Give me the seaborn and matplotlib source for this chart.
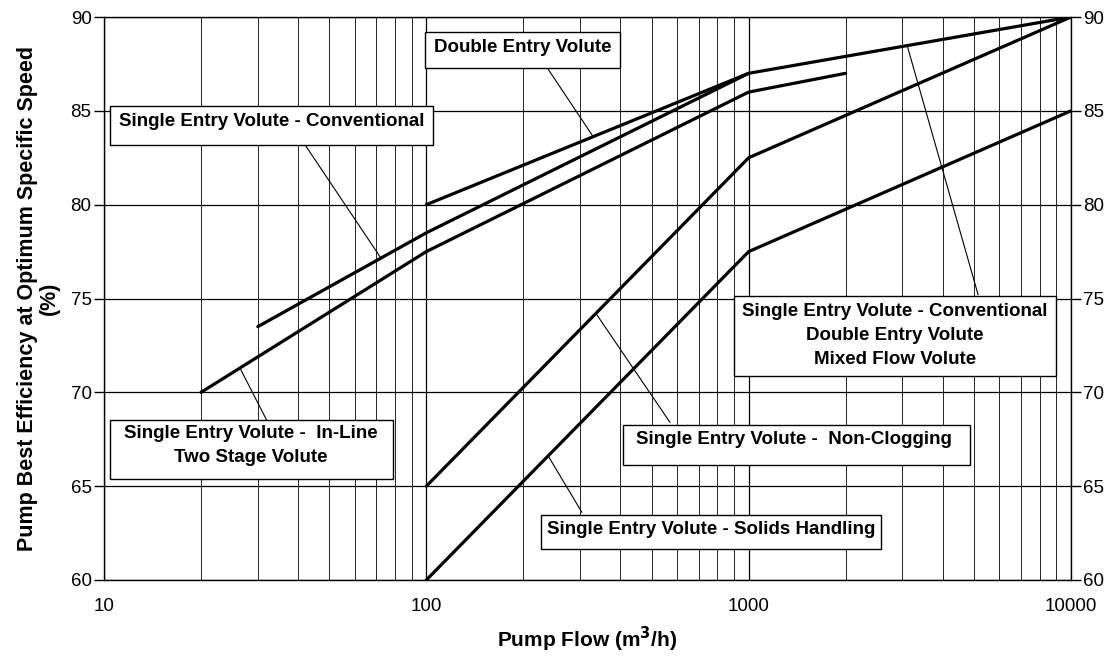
import numpy as np
import pandas as pd
import matplotlib.pyplot as plt
import matplotlib.ticker as mticker
from matplotlib.patches import Rectangle
import seaborn as sns

sns.set_theme(style="white")
plt.rcParams['font.family'] = ['Liberation Sans', 'DejaVu Sans']
plt.rcParams.update({'text.color': 'black', 'axes.labelcolor': 'black',
                     'xtick.color': 'black', 'ytick.color': 'black'})

# ---------------------------------------------------------------
# data (flow m3/h, efficiency %)
# ---------------------------------------------------------------
flow_double = [100, 1000, 10000]
eff_double = [80, 87, 90]
flow_conv = [30, 100, 1000]
eff_conv = [73.5, 78.5, 87]
flow_inline = [20, 100, 1000, 2000]
eff_inline = [70, 77.5, 86, 87]
flow_nonclog = [100, 1000, 10000]
eff_nonclog = [65, 82.5, 90]
flow_solids = [100, 1000, 10000]
eff_solids = [60, 77.5, 85]

series = {
    'Double Entry Volute': (flow_double, eff_double),
    'Single Entry Volute - Conventional': (flow_conv, eff_conv),
    'Single Entry Volute - In-Line': (flow_inline, eff_inline),
    'Single Entry Volute - Non-Clogging': (flow_nonclog, eff_nonclog),
    'Single Entry Volute - Solids Handling': (flow_solids, eff_solids),
}
df = pd.concat([pd.DataFrame({'flow': f, 'eff': e, 'series': name})
                for name, (f, e) in series.items()], ignore_index=True)

x_ticks = [10, 100, 1000, 10000]
y_ticks = [60, 65, 70, 75, 80, 85, 90]

# ---------------------------------------------------------------
# figure
# ---------------------------------------------------------------
W, H = 1105, 663
fig = plt.figure(figsize=(W / 100, H / 100), dpi=100)
L, R, T, B = 104, 1071, 17, 580
ax = fig.add_axes([L / W, 1 - B / H, (R - L) / W, (B - T) / H])

sns.lineplot(data=df, x='flow', y='eff', units='series', estimator=None,
             sort=False, color='black', lw=2.3, ax=ax, zorder=3)

ax.set_xscale('log')
ax.set_xlim(10, 10000)
ax.set_ylim(60, 90)
ax.xaxis.set_major_locator(mticker.FixedLocator(x_ticks))
ax.xaxis.set_major_formatter(mticker.FixedFormatter([str(v) for v in x_ticks]))
ax.xaxis.set_minor_locator(mticker.LogLocator(base=10, subs=np.arange(2, 10)))
ax.xaxis.set_minor_formatter(mticker.NullFormatter())
ax.set_yticks(y_ticks)

ax.grid(which='major', color='black', lw=0.9)
ax.grid(which='minor', axis='x', color='black', lw=0.6)
ax.set_axisbelow(True)
for s in ax.spines.values():
    s.set_color('black')
    s.set_linewidth(1)

ax.yaxis.set_ticks_position('both')
ax.tick_params(axis='y', which='major', direction='out', length=7, width=1,
               labelsize=13.5, labelright=True, pad=2)
ax.tick_params(axis='x', which='major', direction='out', length=5, width=1,
               labelsize=13.5, pad=8)
ax.tick_params(axis='x', which='minor', length=0)

ax.set_xlabel('Pump Flow (m$^\\mathbf{3}$/h)', fontsize=15, fontweight='bold', labelpad=7)
ax.set_ylabel('Pump Best Efficiency at Optimum Specific Speed\n(%)', fontsize=15.5,
              fontweight='bold', labelpad=8, linespacing=1.0)


# ---------------------------------------------------------------
# label boxes with leader lines (box given in pixels of the figure)
# ---------------------------------------------------------------
def px(xp, yp):
    return (xp - L) / (R - L), (B - yp) / (B - T)


def label_box(x0, y0, x1, y1, lines, tx, ty, ha='center', dy=24):
    ax0, ay0 = px(x0, y1)
    ax1, ay1 = px(x1, y0)
    ax.add_patch(Rectangle((ax0, ay0), ax1 - ax0, ay1 - ay0, transform=ax.transAxes,
                           facecolor='white', edgecolor='black', lw=1, zorder=5))
    for i, t in enumerate(lines):
        xx, yy = px(tx, ty + 2 + i * dy)
        ax.text(xx, yy, t, transform=ax.transAxes, ha=ha, va='center',
                fontsize=13.5, fontweight='bold', zorder=6)


def leader(p0, p1):
    ax.plot([p0[0], p1[0]], [p0[1], p1[1]], color='black', lw=0.8, zorder=4)


leader((237, 87.3), (330, 83.6))
leader((42, 83.2), (72, 77.2))
leader((32, 68.5), (26.4, 71.3))
leader((570, 68.4), (336, 74.2))
leader((304, 63.6), (239, 66.6))
leader((5150, 75.2), (3100, 88.5))

label_box(425, 32, 620, 68, ['Double Entry Volute'], 434, 45, ha='left')
label_box(110, 106, 433, 145, ['Single Entry Volute - Conventional'], 119, 119, ha='left')
label_box(110, 420, 393, 479, ['Single Entry Volute -  In-Line', 'Two Stage Volute'],
          251, 432)
label_box(623, 425, 970, 465, ['Single Entry Volute -  Non-Clogging'], 636, 438, ha='left')
label_box(541, 515, 881, 549, ['Single Entry Volute - Solids Handling'], 547, 528, ha='left')
label_box(734, 296, 1056, 376, ['Single Entry Volute - Conventional',
                                'Double Entry Volute', 'Mixed Flow Volute'], 895, 309)

fig.savefig('out.png', dpi=100)
